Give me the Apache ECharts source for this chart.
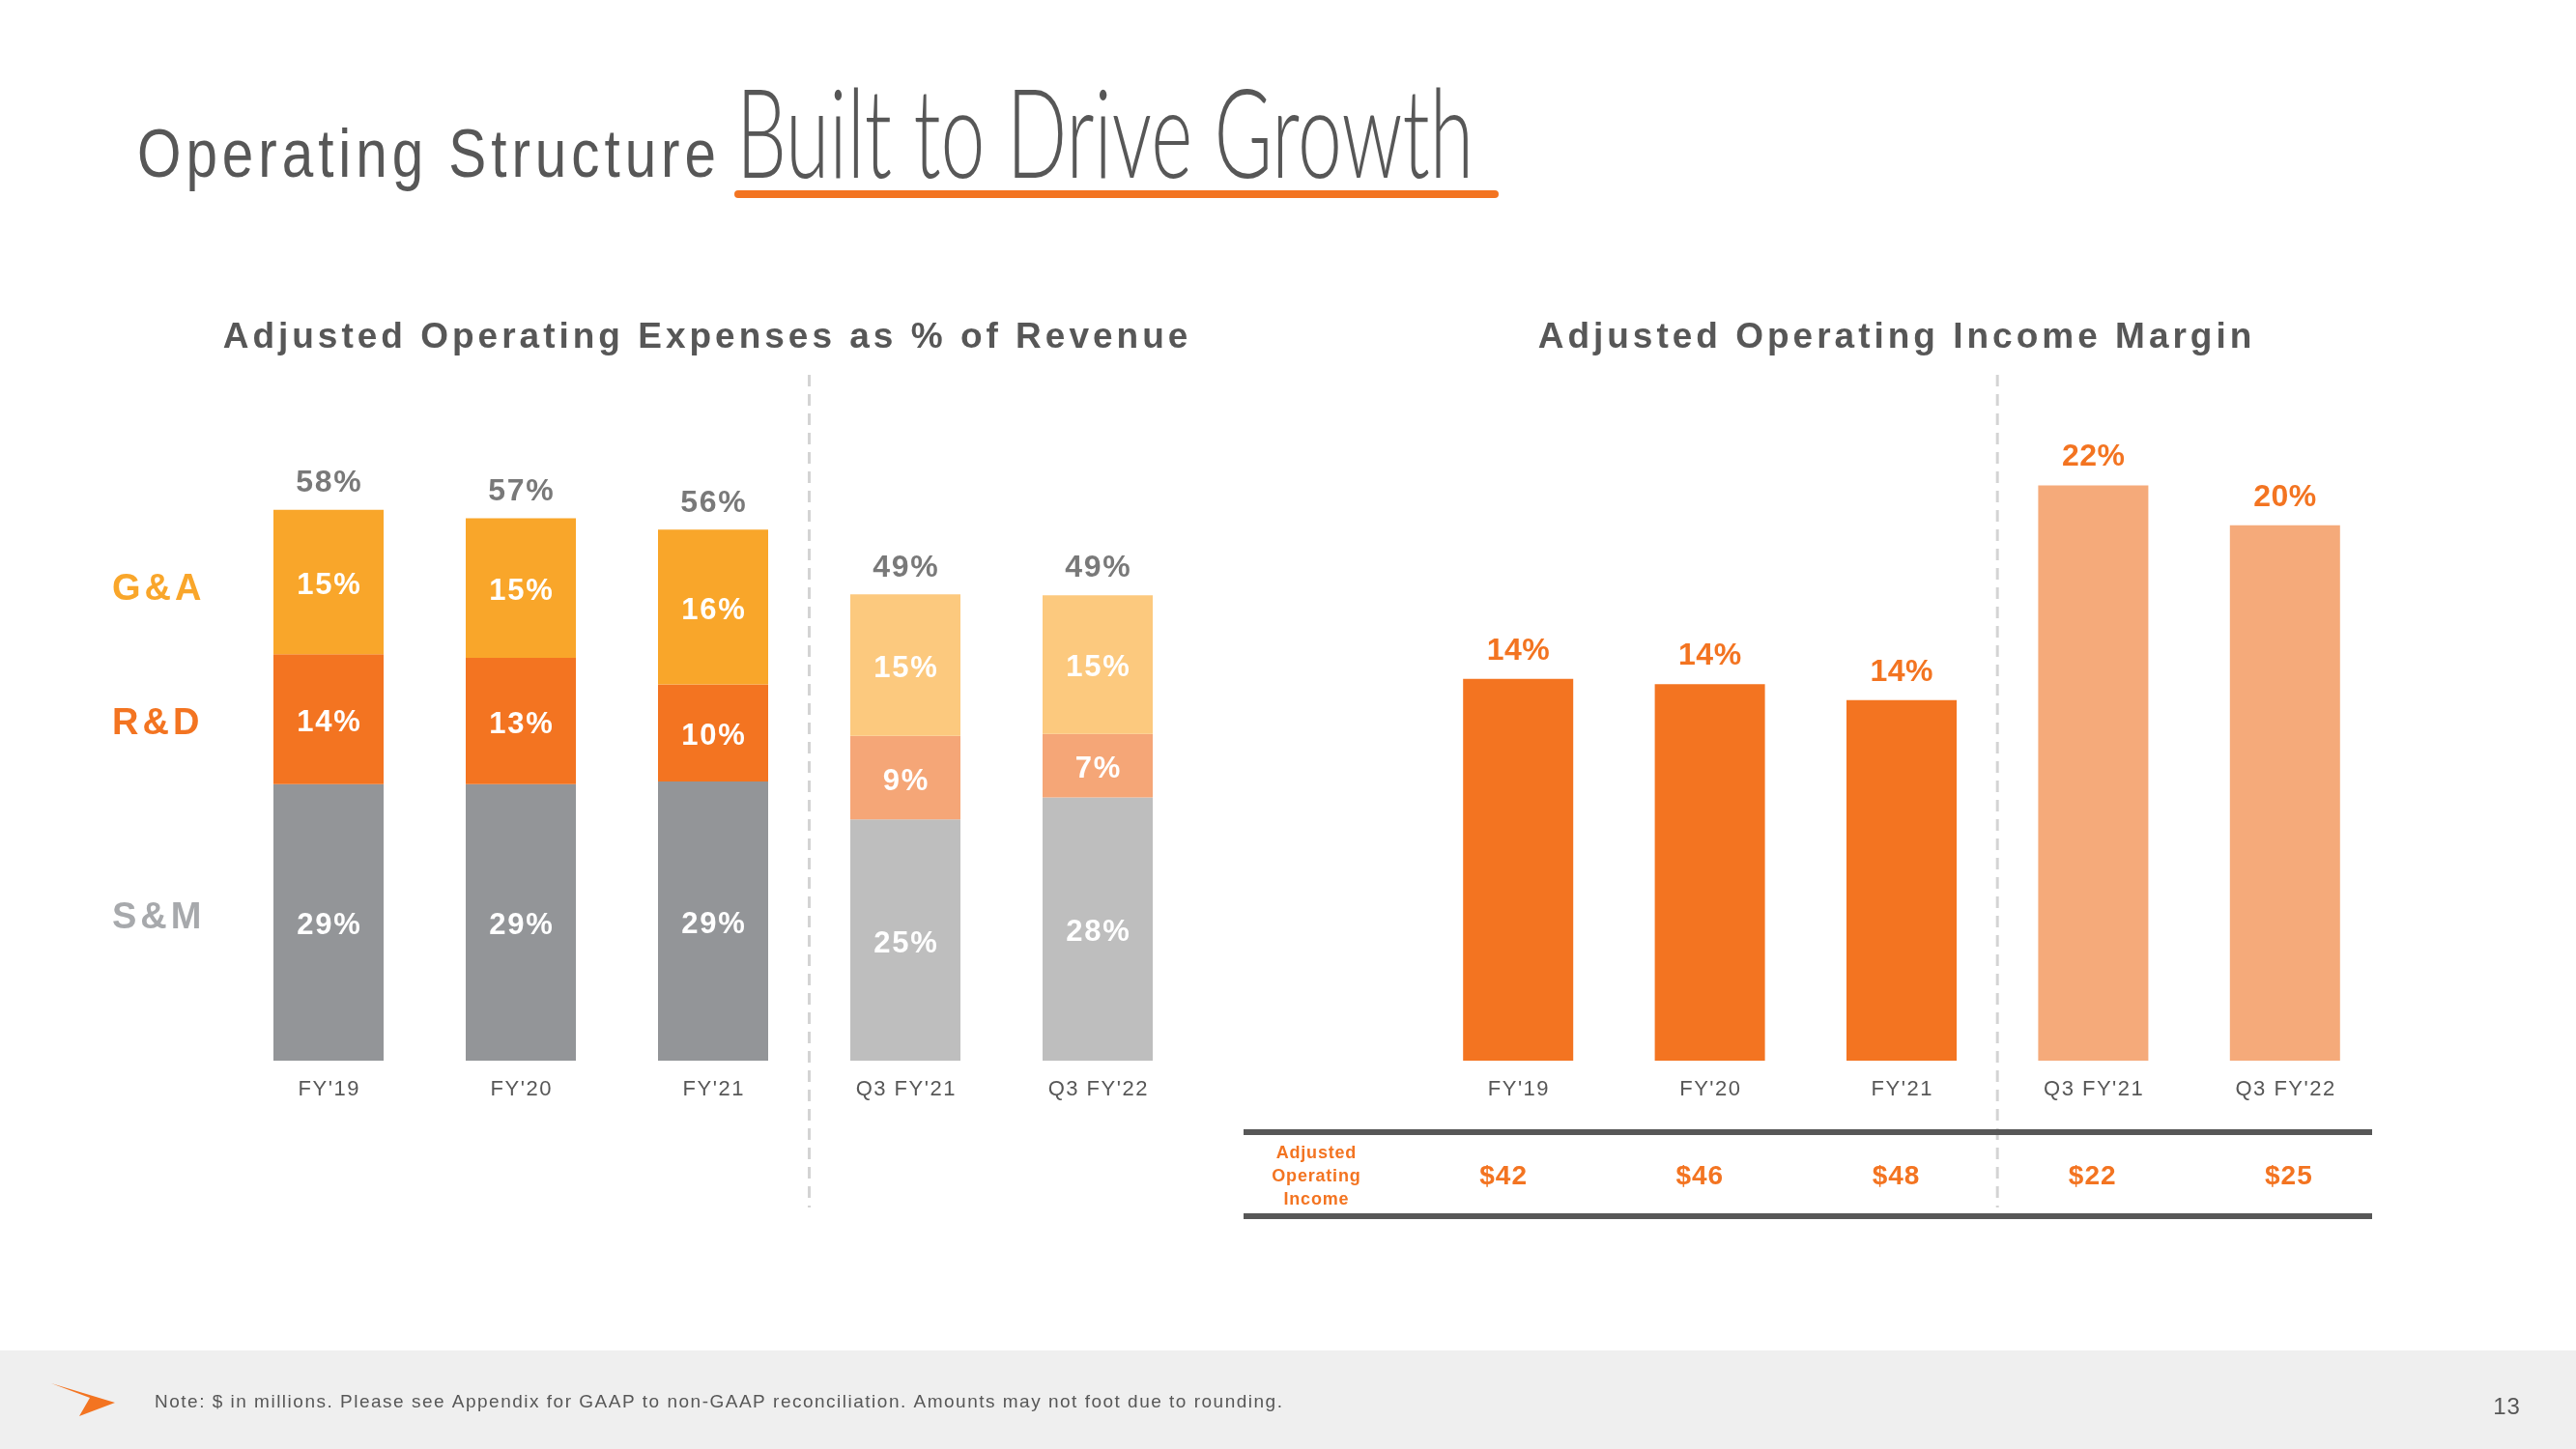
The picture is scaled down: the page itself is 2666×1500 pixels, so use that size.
<!DOCTYPE html>
<html><head><meta charset="utf-8">
<script src="https://cdn.jsdelivr.net/npm/echarts@6/dist/echarts.min.js"></script>
<style>html,body{margin:0;padding:0;background:#fff}#c{width:2666px;height:1500px}</style>
</head><body><div id="c"></div>
<script>
// ---------------- data ----------------
const categories = ["FY'19", "FY'20", "FY'21", "Q3 FY'21", "Q3 FY'22"];
const periodType = ['FY', 'FY', 'FY', 'Q', 'Q'];
const smPct = [29.1, 29.1, 29.4, 25.4, 27.7];   // S&M % of revenue
const rdPct = [13.7, 13.3, 10.2, 8.8, 6.7];     // R&D % of revenue
const gaPct = [15.2, 14.7, 16.3, 14.9, 14.6];   // G&A % of revenue
const marginPct = [14.4, 14.2, 13.6, 21.7, 20.2]; // Adjusted operating income margin
const adjOpIncome = [42, 46, 48, 22, 25];        // $ millions

// ---------------- letter-spacing support (canvas) ----------------
(function () {
  const P = CanvasRenderingContext2D.prototype;
  if (!('letterSpacing' in P)) return;
  const of = P.fillText;
  P.fillText = function (t, x, y, w) {
    const m = /lsp(\d+)_(\d+)/.exec(this.font);
    if (m) {
      const ls = parseFloat(m[1] + '.' + m[2]);
      this.letterSpacing = ls + 'px';
      const a = this.textAlign;
      if (a === 'center') x += ls / 2; else if (a === 'right' || a === 'end') x += ls;
      const r = (w === undefined) ? of.call(this, t, x, y) : of.call(this, t, x, y, w);
      this.letterSpacing = '0px';
      return r;
    }
    return (w === undefined) ? of.call(this, t, x, y) : of.call(this, t, x, y, w);
  };
})();
function F(ls, fam) {
  const s = ls.toFixed(1).split('.');
  return (fam || '"Liberation Sans", Arial') + ', lsp' + s[0] + '_' + s[1];
}
function measure(font, text, ls) {
  const c = document.createElement('canvas').getContext('2d');
  c.font = font;
  return c.measureText(text).width + ls * (text.length - 1);
}

const GRAY = '#575757';
const ORANGE = '#F37421';
const colors = {
  sm: { FY: '#939598', Q: '#BEBEBE' },
  rd: { FY: '#F37421', Q: '#F5A677' },
  ga: { FY: '#F9A62A', Q: '#FCC97E' },
  margin: { FY: '#F37421', Q: '#F5AA7A' }
};

const pctFmt = p => Math.round(p.value) + '%';
const totals = categories.map((_, i) => smPct[i] + rdPct[i] + gaPct[i]);

function segSeries(name, values, key) {
  return {
    name, type: 'bar', stack: 'opex', xAxisIndex: 0, yAxisIndex: 0, barWidth: 114,
    data: values.map((v, i) => ({ value: v, itemStyle: { color: colors[key][periodType[i]] } })),
    label: { show: true, position: 'inside', offset: [0, 4], color: '#fff', fontWeight: 'bold', fontSize: 31, fontFamily: F(1.8), formatter: pctFmt },
    silent: true
  };
}

const catAxisLabel = { color: GRAY, fontSize: 22, fontFamily: F(1.5), margin: 19, interval: 0 };

const chart = echarts.init(document.getElementById('c'), null, { renderer: 'canvas', width: 2666, height: 1500 });
chart.setOption({
  backgroundColor: '#fff',
  animation: false,
  grid: [
    { left: 240.5, width: 995, top: 508, height: 590 },
    { left: 1472, width: 992, top: 412, height: 686 },
    { left: 1454, width: 1016, top: 1217, height: 1 }
  ],
  xAxis: [
    { gridIndex: 0, type: 'category', data: categories, axisLine: { show: false }, axisTick: { show: false }, axisLabel: catAxisLabel },
    { gridIndex: 1, type: 'category', data: categories, axisLine: { show: false }, axisTick: { show: false }, axisLabel: catAxisLabel },
    { gridIndex: 2, type: 'category', data: adjOpIncome.map(v => '$' + v), axisLine: { show: false }, axisTick: { show: false },
      axisLabel: { color: ORANGE, fontWeight: 'bold', fontSize: 28, fontFamily: F(1.0), margin: 0, verticalAlign: 'middle', interval: 0 } }
  ],
  yAxis: [
    { gridIndex: 0, type: 'value', show: false, min: 0, max: 60 },
    { gridIndex: 1, type: 'value', show: false, min: 0, max: 25 },
    { gridIndex: 2, type: 'value', show: false, min: 0, max: 1 }
  ],
  series: [
    segSeries('S&M', smPct, 'sm'),
    segSeries('R&D', rdPct, 'rd'),
    segSeries('G&A', gaPct, 'ga'),
    {
      name: 'Total', type: 'scatter', xAxisIndex: 0, yAxisIndex: 0, data: totals, symbolSize: 1,
      itemStyle: { color: 'rgba(0,0,0,0)' }, silent: true,
      label: { show: true, position: 'top', distance: 11, color: GRAY, fontWeight: 'bold', fontSize: 32, fontFamily: F(1.8), formatter: pctFmt }
    },
    {
      name: 'Adjusted Operating Income Margin', type: 'bar', xAxisIndex: 1, yAxisIndex: 1, barWidth: 114, silent: true,
      data: marginPct.map((v, i) => ({ value: v, itemStyle: { color: colors.margin[periodType[i]] } })),
      label: { show: true, position: 'top', distance: 13, color: ORANGE, fontWeight: 'bold', fontSize: 32, fontFamily: F(0.5), formatter: pctFmt }
    }
  ]
});

// ---------------- decorations / text ----------------
const titleFont = 'normal 71px "Liberation Sans", Arial';
const titleLs = 6;
const titleScale = 599 / (measure(titleFont, 'Operating Structure', titleLs));
const handFont = '300 128px Lato, "Liberation Sans"';
const handScale = 763 / measure(handFont, 'Built to Drive Growth', 0);

const lx2 = chart.convertToPixel({ xAxisIndex: 0 }, categories[2]);
const lx3 = chart.convertToPixel({ xAxisIndex: 0 }, categories[3]);
const rx2 = chart.convertToPixel({ xAxisIndex: 1 }, categories[2]);
const rx3 = chart.convertToPixel({ xAxisIndex: 1 }, categories[3]);
const divL = (lx2 + lx3) / 2, divR = (rx2 + rx3) / 2;

const g = [];
// footer
g.push({ type: 'rect', shape: { x: 0, y: 1398, width: 2666, height: 102 }, style: { fill: '#EFEFEF' }, z: 0 });
g.push({ type: 'polygon', shape: { points: [[53, 1432], [119, 1452], [82, 1466], [93, 1447]] }, style: { fill: ORANGE } });
g.push({ type: 'text', x: 160, y: 1452, style: { text: 'Note: $ in millions. Please see Appendix for GAAP to non-GAAP reconciliation. Amounts may not foot due to rounding.', font: 'normal 19px ' + F(1.5), fill: GRAY, textAlign: 'left', textVerticalAlign: 'middle' } });
g.push({ type: 'text', x: 2594, y: 1457, style: { text: '13', font: 'normal 24px ' + F(1.0), fill: GRAY, textAlign: 'center', textVerticalAlign: 'middle' } });
// title
g.push({ type: 'text', x: 142, y: 163, scaleX: titleScale, style: { text: 'Operating Structure', font: 'normal 71px ' + F(titleLs), fill: GRAY, textAlign: 'left', textVerticalAlign: 'middle' } });
g.push({ type: 'text', x: 762, y: 143, scaleX: handScale, style: { text: 'Built to Drive Growth', font: handFont, fill: GRAY, textAlign: 'left', textVerticalAlign: 'middle' } });
g.push({ type: 'rect', shape: { x: 760, y: 197, width: 791, height: 8, r: 4 }, style: { fill: ORANGE } });
// subtitles
g.push({ type: 'text', x: 730, y: 350, style: { text: 'Adjusted Operating Expenses as % of Revenue', font: 'bold 37px ' + F(4.0), fill: GRAY, textAlign: 'center', textVerticalAlign: 'middle' } });
g.push({ type: 'text', x: 1961, y: 350, style: { text: 'Adjusted Operating Income Margin', font: 'bold 37px ' + F(4.0), fill: GRAY, textAlign: 'center', textVerticalAlign: 'middle' } });
// row labels
g.push({ type: 'text', x: 116, y: 611, style: { text: 'G&A', font: 'bold 38px ' + F(4), fill: colors.ga.FY, textAlign: 'left', textVerticalAlign: 'middle' } });
g.push({ type: 'text', x: 116, y: 750, style: { text: 'R&D', font: 'bold 38px ' + F(4), fill: colors.rd.FY, textAlign: 'left', textVerticalAlign: 'middle' } });
g.push({ type: 'text', x: 116, y: 951, style: { text: 'S&M', font: 'bold 38px ' + F(4), fill: '#A7A9AC', textAlign: 'left', textVerticalAlign: 'middle' } });
// dividers
[divL, divR].forEach(x => g.push({ type: 'line', shape: { x1: x, y1: 388, x2: x, y2: 1250 }, style: { stroke: '#D4D4D4', lineWidth: 3, lineDash: [12, 8] } }));
// table
g.push({ type: 'rect', shape: { x: 1287, y: 1169, width: 1168, height: 6 }, style: { fill: GRAY } });
g.push({ type: 'rect', shape: { x: 1287, y: 1256, width: 1168, height: 6 }, style: { fill: GRAY } });
g.push({ type: 'text', x: 1362, y: 1218, style: { text: 'Adjusted\nOperating\nIncome', font: 'bold 18px ' + F(0.8), lineHeight: 24, fill: ORANGE, textAlign: 'center', textVerticalAlign: 'middle' } });

chart.setOption({ graphic: g });
</script>
</body></html>
